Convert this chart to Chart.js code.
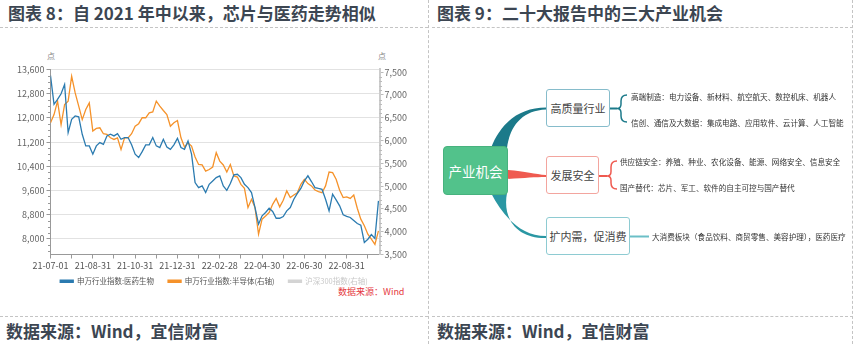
<!DOCTYPE html>
<html><head><meta charset="utf-8">
<script src="https://cdn.jsdelivr.net/npm/chart.js@4.4.0/dist/chart.umd.min.js"></script>
<style>
body{margin:0;width:854px;height:344px;position:relative;background:#fff;font-family:"Noto Sans CJK SC","Noto Sans",sans-serif;overflow:hidden}
.abs{position:absolute;white-space:nowrap}
.title{font-size:17px;font-weight:bold;color:#3c4652;line-height:20px}
.hd{position:absolute;height:0;border-top:1px dashed #c4c4c4}
.vd{position:absolute;width:0;border-left:1px dashed #c4c4c4}
.box{position:absolute;box-sizing:border-box;display:flex;align-items:center;justify-content:center;border-radius:3px;background:#fff;color:#444;font-size:11px;white-space:nowrap}
.lf{position:absolute;font-size:7.6px;line-height:12px;color:#333;white-space:nowrap}
.unit{position:absolute;font-size:8px;color:#888;line-height:10px}
</style></head>
<body>
<div class="abs title" style="left:8px;top:3px">图表 8：自 2021 年中以来，芯片与医药走势相似</div>
<div class="abs title" style="left:437px;top:3px">图表 9：二十大报告中的三大产业机会</div>
<div class="hd" style="left:0;top:27px;width:428px"></div>
<div class="hd" style="left:432px;top:27px;width:421px"></div>
<div class="hd" style="left:0;top:316px;width:428px"></div>
<div class="hd" style="left:432px;top:316px;width:421px"></div>
<div class="vd" style="left:428px;top:0;height:344px"></div>
<div class="vd" style="left:852px;top:0;height:344px"></div>
<div class="abs title" style="left:6px;top:321px">数据来源：Wind，宜信财富</div>
<div class="abs title" style="left:437px;top:321px">数据来源：Wind，宜信财富</div>

<div class="unit" style="left:47px;top:51px">点</div>
<div class="unit" style="left:378px;top:51px">点</div>
<div class="abs" style="left:338px;top:286px;font-size:9px;line-height:12px;color:#e5393e">数据来源：Wind</div>

<div style="position:absolute;left:0;top:44px;width:428px;height:262px"><canvas id="c"></canvas></div>

<svg style="position:absolute;left:0;top:0" width="854" height="344">
  <path d="M491,148 C501,122 520,107.5 546,107.5 L546,109.5 C522,110.5 510,126 507,148 Z" fill="#1c7a8a"/>
  <path d="M507,170 C525,171 535,174.5 546,175 L546,177 C535,177 525,178 507,179 Z" fill="#ef5a50"/>
  <path d="M491,193 C503,216 520,236 546,236 L546,238 C518,238.5 502,220 507,193 Z" fill="#2a97a3"/>
  <path d="M610,108.5 L617,108.5" stroke="#1c7a8a" stroke-width="2" fill="none"/>
  <path d="M627,95 Q621,95 621,101 L621,104 Q621,108.5 617,108.5 Q621,108.5 621,113 L621,116 Q621,122 627,122" stroke="#1c7a8a" stroke-width="1.5" fill="none"/>
  <path d="M599,176 L607,176" stroke="#ef5a50" stroke-width="2" fill="none"/>
  <path d="M617,161 Q611,161 611,167 L611,171.5 Q611,176 607,176 Q611,176 611,180.5 L611,183 Q611,189 617,189" stroke="#ef5a50" stroke-width="1.5" fill="none"/>
  <path d="M630,236.5 L649,236.5" stroke="#6bbfc7" stroke-width="2" fill="none"/>
</svg>
<div class="box" style="left:443px;top:146px;width:65px;height:49px;background:#52c28b;border:1px solid #47b27e;color:#fff;font-size:13.5px;border-radius:4px">产业机会</div>
<div class="box" style="left:546px;top:89px;width:64px;height:38px;border:1px solid #86bccb">高质量行业</div>
<div class="box" style="left:546px;top:156px;width:53px;height:38px;border:1px solid #f3a59e">发展安全</div>
<div class="box" style="left:546px;top:217px;width:84px;height:38px;border:1px solid #8ecbd2">扩内需，促消费</div>
<div class="lf" style="left:631px;top:91px">高端制造：电力设备、新材料、航空航天、数控机床、机器人</div>
<div class="lf" style="left:631px;top:117px">信创、通信及大数据：集成电路、应用软件、云计算、人工智能</div>
<div class="lf" style="left:620px;top:156px">供应链安全：养殖、种业、农化设备、能源、网络安全、信息安全</div>
<div class="lf" style="left:620px;top:182px">国产替代：芯片、军工、软件的自主可控与国产替代</div>
<div class="lf" style="left:652px;top:231px">大消费板块（食品饮料、商贸零售、美容护理），医药医疗</div>

<script>
// Sampling: 6 points per month, starting 2021-07-01
const pointsPerMonth = 6;
const tickLabels = ['21-07-01','21-08-31','21-10-31','21-12-31','22-02-28','22-04-30','22-06-30','22-08-31'];
const seriesNames = ['申万行业指数:医药生物','申万行业指数:半导体(右轴)','沪深300指数(右轴)'];
const pharma = [13400,12450,12615,12800,13110,11515,11955,12065,12035,11460,
  11075,11075,10800,11075,11185,11125,11405,11460,11405,11480,
  11295,11350,11350,11110,10800,10690,10885,11110,11110,11350,
  11075,11020,11295,11040,10960,11110,11325,11020,10960,11240,
  10800,9860,9695,9750,9530,9805,9915,10025,10085,9750,
  9605,9830,10115,10135,10025,9805,9695,9530,9035,8485,
  8760,8870,9010,8905,8680,8680,8735,8925,9035,9310,
  9500,9665,9915,10085,9895,9695,9665,9640,9310,8925,
  9475,9290,9090,8795,8745,8705,8605,8505,8450,7880,
  7985,8140,8010,9255];
const semis = [6390,6570,6865,6350,6790,6865,7410,7045,6755,6460,
  6680,6825,6210,6265,6280,6150,6135,6060,6025,6060,
  5805,6060,6060,6150,6315,6370,6500,6500,6610,6630,
  6865,6755,6660,6570,6315,6390,6440,6060,5860,5950,
  5880,5640,5475,5465,5330,5365,5420,5735,5550,5465,
  5310,5475,5225,5200,5040,4950,4530,4710,4530,3945,
  4275,4345,4420,4600,4730,4545,4690,4895,4750,4805,
  4855,5040,5150,5055,5005,4915,4880,4855,5005,5310,
  5295,5150,4910,4750,4765,4730,4805,4515,4275,4130,
  3945,3835,3720,4020];
const hs300 = [];
const leftTicks = [8000,8800,9600,10400,11200,12000,12800,13600];
const rightTicks = [3500,4000,4500,5000,5500,6000,6500,7000,7500];

Chart.defaults.font.family = '"Noto Sans CJK SC","Noto Sans",sans-serif';
const toXY = arr => arr.map((v,i)=>({x:i/pointsPerMonth, y:v}));

const minorTicks = {
  id:'minorTicks',
  afterDraw(chart){
    const ctx = chart.ctx, y = chart.scales.y, y1 = chart.scales.y1;
    ctx.save();
    ctx.strokeStyle = '#999'; ctx.lineWidth = 1;
    for(let v=7600; v<=13600; v+=200){
      if(v%800===0) continue;
      const p = Math.round(y.getPixelForValue(v))+0.5;
      ctx.beginPath(); ctx.moveTo(y.right-2.5,p); ctx.lineTo(y.right,p); ctx.stroke();
    }
    ctx.strokeStyle = '#bbb';
    for(let v=3600; v<=7500; v+=100){
      if(v%500===0) continue;
      const p = Math.round(y1.getPixelForValue(v))+0.5;
      ctx.beginPath(); ctx.moveTo(y1.left,p); ctx.lineTo(y1.left+2.5,p); ctx.stroke();
    }
    ctx.restore();
  }
};
const legendShift = {
  id:'legendShift',
  afterLayout(chart){ const l = chart.legend; if(l){ l.top -= 11; l.bottom -= 11; } }
};

new Chart(document.getElementById('c'), {
  type:'line',
  data:{datasets:[
    {label:seriesNames[0], data:toXY(pharma), yAxisID:'y', borderColor:'#2b7bb0', backgroundColor:'#2b7bb0', borderWidth:1.3, pointRadius:0, tension:0},
    {label:seriesNames[1], data:toXY(semis), yAxisID:'y1', borderColor:'#f5922a', backgroundColor:'#f5922a', borderWidth:1.3, pointRadius:0, tension:0},
    {label:seriesNames[2], data:hs300, yAxisID:'y1', borderColor:'#d4d4d4', backgroundColor:'#d4d4d4', borderWidth:1.3, pointRadius:0}
  ]},
  options:{
    responsive:true, maintainAspectRatio:false, animation:false,
    layout:{padding:{top:25,bottom:0,left:0,right:0}},
    plugins:{
      tooltip:{enabled:false},
      legend:{position:'bottom', labels:{boxWidth:13, boxHeight:2, padding:14, color:'#555', font:{size:7.5},
        generateLabels(chart){
          const items = Chart.defaults.plugins.legend.labels.generateLabels(chart);
          items.forEach((it,i)=>{ it.fontColor = i===2 ? '#c8c8c8' : '#555'; });
          return items;
        }}}
    },
    scales:{
      x:{type:'linear', min:0, max:15.55,
        afterBuildTicks(s){ s.ticks = []; for(let m=0;m<=15;m++) s.ticks.push({value:m}); },
        afterFit(s){ s.height = 20; },
        ticks:{autoSkip:false, maxRotation:0, padding:2, color:'#555', font:{size:9},
          callback:(v)=> (v%2===0 ? tickLabels[v/2] : '')},
        grid:{display:true, drawOnChartArea:false, tickLength:4, color:'#999'},
        border:{color:'#999'}
      },
      y:{position:'left', min:7480, max:13620,
        afterBuildTicks(s){ s.ticks = leftTicks.map(v=>({value:v})); },
        afterFit(s){ s.width = 50.5; },
        ticks:{padding:2, color:'#666', font:{size:9}, callback:(v)=>v.toLocaleString('en-US')},
        grid:{color:'#e2e2e2', tickColor:'#999', tickLength:4, tickBorderDash:[], borderDash:[3,3]},
        border:{color:'#999', dash:[]}
      },
      y1:{position:'right', min:3500, max:7570,
        afterBuildTicks(s){ s.ticks = rightTicks.map(v=>({value:v})); },
        afterFit(s){ s.width = 48.5; },
        ticks:{padding:1, color:'#666', font:{size:9}, callback:(v)=>v.toLocaleString('en-US')},
        grid:{drawOnChartArea:false, tickColor:'#bbb', tickLength:4},
        border:{color:'#ccc', width:2}
      }
    }
  },
  plugins:[minorTicks, legendShift]
});
</script>
</body></html>
